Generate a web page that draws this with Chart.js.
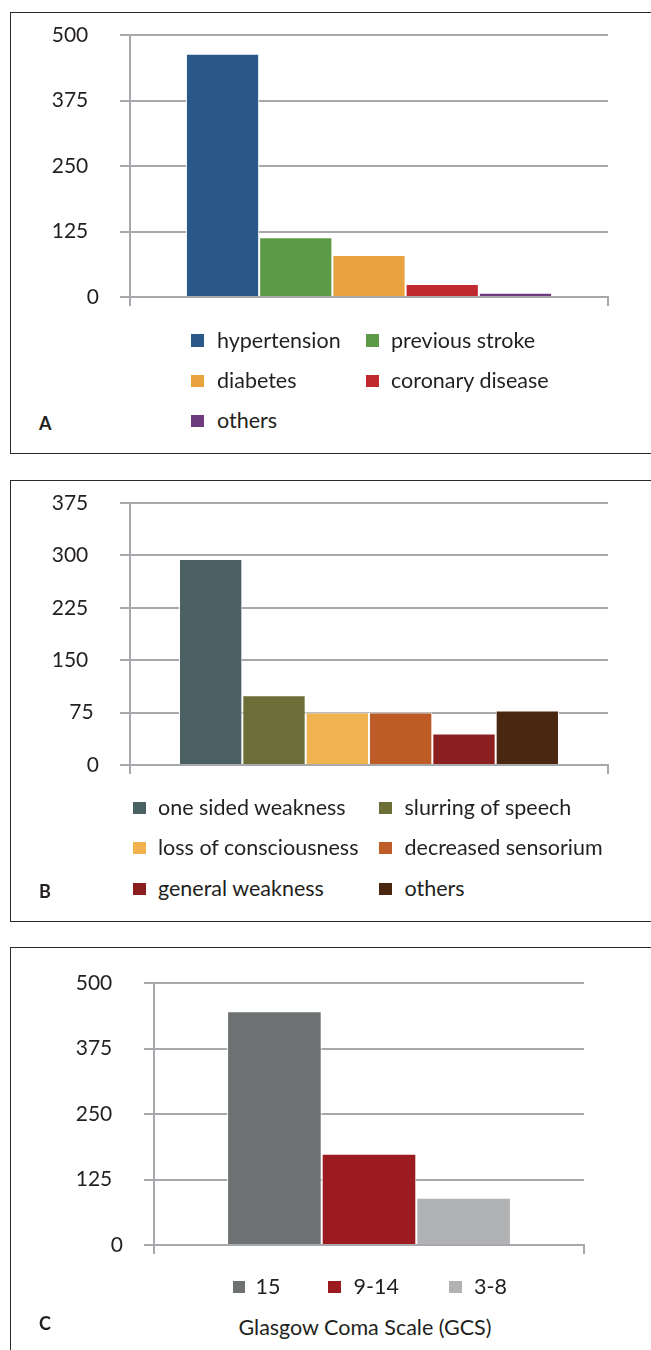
<!DOCTYPE html>
<html>
<head>
<meta charset="utf-8">
<script src="https://cdn.jsdelivr.net/npm/chart.js@4.4.1/dist/chart.umd.min.js"></script>
<style>
    body { margin: 0; background: #fff; font-family: Lato, "Open Sans", sans-serif; color: #231f20; }
    #page { position: relative; width: 651px; height: 1350px; overflow: hidden; }
    .panel { position: absolute; left: 10px; width: 700px; border: 1.5px solid #2a2a2a; box-sizing: border-box; }
    canvas { position: absolute; left: 0; }
    .legend-item { position: absolute; font-size: 21.5px; line-height: 24px; height: 24px; white-space: nowrap; }
    .swatch { position: absolute; width: 12.5px; height: 12.5px; }
    .letter { position: absolute; font-weight: bold; font-size: 18px; line-height: 20px; }
    .caption { position: absolute; font-size: 21.5px; line-height: 24px; white-space: nowrap; transform: translateX(-50%); }
</style>
</head>
<body>
<div id="page">
    <div class="panel" style="top:12px;height:442px"></div>
    <div class="panel" style="top:480px;height:442px"></div>
    <div class="panel" style="top:947px;height:500px"></div>

    <canvas id="chartA" width="651" height="350" style="top:0px"></canvas>
    <canvas id="chartB" width="651" height="350" style="top:460px"></canvas>
    <canvas id="chartC" width="651" height="350" style="top:935px"></canvas>

    <div class="letter" style="left:39px;top:413px">A</div>
    <div class="letter" style="left:39px;top:881px">B</div>
    <div class="letter" style="left:39px;top:1313px">C</div>
    <div class="caption" style="left:365px;top:1315px">Glasgow Coma Scale (GCS)</div>
</div>

<script>
// Panel A - risk factors
const riskLabels = ['hypertension', 'previous stroke', 'diabetes', 'coronary disease', 'others'];
const riskValues = [464, 114, 80, 25, 8];
const riskColors = ['#295889', '#5c9a47', '#e8a23e', '#c0292f', '#6e3a7e'];
const riskTicks = [0, 125, 250, 375, 500];

// Panel B - presenting symptoms
const symptomLabels = ['one sided weakness', 'slurring of speech', 'loss of consciousness', 'decreased sensorium', 'general weakness', 'others'];
const symptomValues = [295, 100, 75, 75, 45, 78];
const symptomColors = ['#4a6063', '#6b6e36', '#f0b350', '#bd5c27', '#8b1e1f', '#4a2710'];
const symptomTicks = [0, 75, 150, 225, 300, 375];

// Panel C - Glasgow Coma Scale
const gcsLabels = ['15', '9-14', '3-8'];
const gcsValues = [446, 174, 90];
const gcsColors = ['#6e7272', '#9c1b21', '#b1b2b4'];
const gcsTicks = [0, 125, 250, 375, 500];

const gridColor = '#a7a8ab';
const textColor = '#231f20';

document.addEventListener('DOMContentLoaded', function() {
    // area = wanted plot box inside each canvas (canvas pixels)
    const chartA = buildBarChart('chartA', riskLabels, riskValues, riskColors, riskTicks,
        { left: 130, right: 608, top: 35, bottom: 297 }, 0.766);
    const chartB = buildBarChart('chartB', symptomLabels, symptomValues, symptomColors, symptomTicks,
        { left: 130, right: 608, top: 43, bottom: 305 }, 0.795);
    const chartC = buildBarChart('chartC', gcsLabels, gcsValues, gcsColors, gcsTicks,
        { left: 154, right: 584, top: 48, bottom: 310 }, 0.66);

    // legends sit outside the canvas, laid out in columns like the original
    buildLegend(chartA, [{ sw: 191, tx: 217 }, { sw: 366, tx: 391 }], [340.5, 381, 421]);
    buildLegend(chartB, [{ sw: 133, tx: 158 }, { sw: 379, tx: 404.5 }], [808, 848, 889]);
    buildLegend(chartC, [{ sw: 232.5, tx: 255.5 }, { sw: 328, tx: 353.5 }, { sw: 449, tx: 474 }], [1287]);
});

// One category, one dataset per bar so every bar gets its own legend entry
function buildBarChart(canvasId, labels, values, colors, ticks, area, groupPct) {
    const canvas = document.getElementById(canvasId);
    const ctx = canvas.getContext('2d');
    const datasets = labels.map((label, i) => ({
        label: label,
        data: [values[i]],
        backgroundColor: colors[i],
        borderColor: '#ffffff',
        borderWidth: 1
    }));

    const chart = new Chart(ctx, {
        type: 'bar',
        data: { labels: [''], datasets: datasets },
        options: {
            responsive: false,
            animation: false,
            devicePixelRatio: 1,
            categoryPercentage: groupPct,
            barPercentage: 1,
            layout: {
                padding: { left: 0, right: canvas.width - area.right, top: area.top, bottom: canvas.height - area.bottom - 12 }
            },
            plugins: {
                legend: { display: false },
                tooltip: { enabled: false }
            },
            scales: {
                x: {
                    ticks: { display: false },
                    grid: { drawOnChartArea: false, color: gridColor, lineWidth: 2, tickLength: 9 },
                    border: { color: gridColor, width: 2 },
                    afterFit: function(scale) { scale.height = 12; }
                },
                y: {
                    min: 0,
                    max: ticks[ticks.length - 1],
                    afterBuildTicks: function(scale) {
                        scale.ticks = ticks.map(v => ({ value: v }));
                    },
                    ticks: {
                        padding: 21,
                        color: textColor,
                        font: { family: 'Lato', size: 21 },
                        // the original pads shorter numbers so they don't line up on the right
                        callback: function(value) {
                            const s = String(value);
                            return s + ' '.repeat(Math.max(0, s.length - 1));
                        }
                    },
                    grid: { color: gridColor, lineWidth: 2, tickLength: 10 },
                    border: { color: gridColor, width: 2 },
                    afterFit: function(scale) { scale.width = area.left; }
                }
            }
        }
    });

    // nudge the padding if the library still placed the plot box somewhere else
    const ca = chart.chartArea;
    const pad = chart.options.layout.padding;
    if (Math.abs(ca.bottom - area.bottom) > 0.5 || Math.abs(ca.top - area.top) > 0.5) {
        pad.bottom += ca.bottom - area.bottom;
        pad.top += area.top - ca.top;
        chart.update();
    }
    return chart;
}

function buildLegend(chart, columns, rows) {
    const page = document.getElementById('page');
    chart.data.datasets.forEach((ds, i) => {
        const col = columns[i % columns.length];
        const rowY = rows[Math.floor(i / columns.length)];

        const swatch = document.createElement('div');
        swatch.className = 'swatch';
        swatch.style.left = col.sw + 'px';
        swatch.style.top = (rowY - 6.25) + 'px';
        swatch.style.background = ds.backgroundColor;
        page.appendChild(swatch);

        const item = document.createElement('div');
        item.className = 'legend-item';
        item.style.left = col.tx + 'px';
        item.style.top = (rowY - 13) + 'px';
        item.textContent = ds.label;
        page.appendChild(item);
    });
}
</script>
</body>
</html>
